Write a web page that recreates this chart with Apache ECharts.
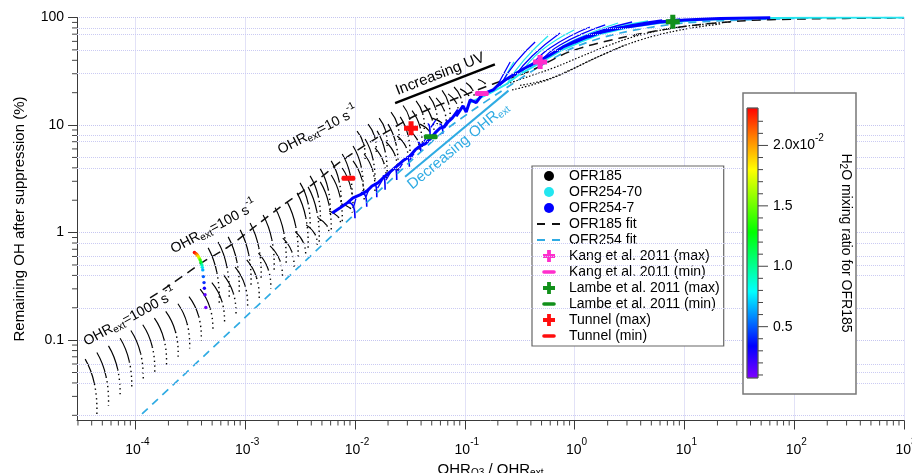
<!DOCTYPE html>
<html><head><meta charset="utf-8">
<script src="https://cdn.jsdelivr.net/npm/echarts@6.0.0/dist/echarts.min.js"></script>
<style>html,body{margin:0;padding:0;background:#fff}#c{width:912px;height:473px}</style>
</head><body><div id="c"></div>
<script>
// ---------------- data ----------------
const xAxisMin = 2.94e-5, xAxisMax = 1000, yAxisMin = 0.0179, yAxisMax = 100;
const xMinorTicks = [3e-5,4e-5,5e-5,6e-5,7e-5,8e-5,9e-5,2e-4,3e-4,4e-4,5e-4,6e-4,7e-4,8e-4,9e-4,
  2e-3,3e-3,4e-3,5e-3,6e-3,7e-3,8e-3,9e-3,0.02,0.03,0.04,0.05,0.06,0.07,0.08,0.09,
  0.2,0.3,0.4,0.5,0.6,0.7,0.8,0.9,2,3,4,5,6,7,8,9,20,30,40,50,60,70,80,90,200,300,400,500,600,700,800,900];
const yMinorTicks = [0.02,0.03,0.04,0.05,0.06,0.07,0.08,0.09,0.2,0.3,0.4,0.5,0.6,0.7,0.8,0.9,
  2,3,4,5,6,7,8,9,20,30,40,50,60,70,80,90];
const yGridExtra = [0.02,0.04,0.05,0.06,0.2,0.4,0.5,0.6,0.8,4,5,7,8,30,50,70,80];

// OFR185 arcs: [x top, y top, x bottom, y bottom]
const ofr185ArcsA = [
  [3.49e-5,0.0666,4.46e-5,0.0205],[4.46e-5,0.0767,5.69e-5,0.0245],[5.69e-5,0.0885,7.25e-5,0.0291],
  [7.26e-5,0.104,9.26e-5,0.0347],[9.1e-5,0.123,1.178e-4,0.0414],[1.168e-4,0.139,1.50e-4,0.0494],
  [1.49e-4,0.160,1.92e-4,0.0588],[1.89e-4,0.185,2.45e-4,0.0701],[2.44e-4,0.218,3.12e-4,0.0836],
  [3.08e-4,0.254,3.98e-4,0.0995],[3.89e-4,0.298,5.08e-4,0.119],[4.97e-4,0.343,6.48e-4,0.142],
  [6.34e-4,0.405,8.24e-4,0.169],[8.1e-4,0.477,1.051e-3,0.201],[1.034e-3,0.557,1.341e-3,0.239],
  [1.32e-3,0.643,1.71e-3,0.30],[1.685e-3,0.752,2.18e-3,0.379],[2.20e-3,0.887,2.78e-3,0.476],
  [2.85e-3,1.02,3.55e-3,0.601],[3.59e-3,1.18,4.53e-3,0.759],[4.62e-3,1.37,5.79e-3,0.958],
  [5.82e-3,1.59,7.36e-3,1.21],[7.49e-3,1.85,9.4e-3,1.53]];
const ofr185ArcsB = [
  [4.60e-4,0.721,5.80e-4,0.222],[5.67e-4,0.819,7.15e-4,0.252],[7.0e-4,0.912,8.82e-4,0.281],
  [9.0e-4,1.06,1.13e-3,0.326],[1.108e-3,1.23,1.396e-3,0.379],[1.456e-3,1.46,1.835e-3,0.450],
  [1.873e-3,1.70,2.36e-3,0.523],[2.41e-3,1.93,3.03e-3,0.595],[2.97e-3,2.34,3.74e-3,0.721],
  [3.74e-3,2.66,4.72e-3,0.819],[4.83e-3,2.96,6.07e-3,1.02],[6.07e-3,3.43,7.65e-3,1.26],
  [7.65e-3,3.99,9.6e-3,1.56],[9.6e-3,4.64,1.21e-2,1.95],[1.21e-2,5.38,1.52e-2,2.44],
  [1.52e-2,6.13,1.92e-2,3.02],[1.92e-2,6.96,2.42e-2,3.78],[2.42e-2,7.92,3.05e-2,4.72],
  [3.05e-2,9.0,3.84e-2,5.87],[3.92e-2,10.2,4.94e-2,7.49],[5.04e-2,11.6,6.35e-2,9.52]];
const ofr185ArcsC = [
  [3.16e-3,2.90,3.9e-3,1.11],[3.9e-3,3.37,4.83e-3,1.28],[4.83e-3,3.91,5.94e-3,1.49],
  [6.07e-3,4.64,7.48e-3,1.77],[7.65e-3,5.38,9.4e-3,2.06],[9.6e-3,6.39,1.185e-2,2.44],
  [1.236e-2,7.43,1.52e-2,2.84],[1.59e-2,8.82,1.96e-2,3.37],[2.0e-2,10.2,2.47e-2,3.91],
  [2.58e-2,11.9,3.17e-2,4.95],[3.31e-2,13.6,4.08e-2,6.26],[4.27e-2,15.4,5.25e-2,7.82],
  [5.48e-2,17.9,6.76e-2,10.0],[7.05e-2,19.5,8.71e-2,12.9],[9.07e-2,21.7,0.112,16.4]];
const ofr185ArcsD = [
  [1.045e-2,8.8,1.236e-2,4.84],[1.316e-2,10.2,1.56e-2,5.63],[1.66e-2,11.6,1.96e-2,6.39],
  [2.13e-2,13.2,2.52e-2,7.27],[2.74e-2,15.2,3.24e-2,8.27],[3.6e-2,16.8,4.27e-2,9.2],
  [4.73e-2,18.6,5.6e-2,10.2],[6.21e-2,21.0,7.34e-2,11.4],[7.98e-2,22.6,9.47e-2,14.0],
  [0.1027,24.7,0.1215,17.8],[0.132,26.5,0.156,22.6]];
// OFR185 high-UV bundle (black dotted)
const ofr185BundleA = [[0.243,24.1],[0.394,28.6],[0.637,33.9],[1.12,43.0],[1.98,54.4],[3.96,68.8],[9.15,81.6],[26.1,90.8]];
const ofr185BundleB = [[0.270,21.2],[0.437,24.1],[0.738,29.2],[1.246,37.8],[2.11,48.3],[3.96,61.8],[9.15,76.5],[21.2,87.0]];
const ofr185BundleC = [[0.319,23.4],[0.539,26.2],[0.91,32.5],[1.54,42.0],[2.88,55.5]];
// OFR185 coloured by H2O: [x, y, H2O mixing ratio]
const ofr185H2OArc = [[3.45e-4,0.652,0.0230],[3.53e-4,0.641,0.0222],[3.62e-4,0.630,0.0210],[3.68e-4,0.614,0.0198],
  [3.75e-4,0.598,0.0185],[3.82e-4,0.578,0.0165],[3.89e-4,0.557,0.0140],[3.96e-4,0.530,0.0120],
  [4.03e-4,0.501,0.0095],[4.07e-4,0.475,0.0080],[4.11e-4,0.450,0.0065],[4.16e-4,0.390,0.0050],
  [4.22e-4,0.343,0.0040],[4.25e-4,0.304,0.0030],[4.31e-4,0.264,0.0015],[4.38e-4,0.201,0.0010]];
// fits
const ofr185Fit = [[1.36e-4,0.247],[2.07e-4,0.326],[4.14e-4,0.534],[7.0e-4,0.736],[1.283e-3,1.18],[2.22e-3,1.81],
  [4.15e-3,2.84],[7.33e-3,4.54],[1.69e-2,7.92],[3.92e-2,12.9],[9.07e-2,18.3],[0.181,24.1],[0.394,31.8],
  [0.91,48.3],[2.60,64.5],[9.15,81.6],[32.2,92.8],[113,96.8],[1000,99.4]];
const ofr254Fit = [[1.15e-4,0.0206],[3.16e-3,0.49],[5.6e-2,7.75],[0.112,13.2],[0.21,20.3],[0.455,33.9],
  [1.01,53.2],[2.6,71.7],[10.1,88.9],[100,97.9],[1000,99.6]];
// OFR254-7 (blue)
const ofr254_7Main = [[6.2e-3,1.52],[7.33e-3,1.70],[8.5e-3,1.89],[9.6e-3,2.10],[1.11e-2,2.24],[1.29e-2,2.44],
  [1.43e-2,2.71],[1.62e-2,2.90],[1.80e-2,3.22],[2.09e-2,3.67],[2.42e-2,4.17],[2.80e-2,4.74],[3.17e-2,5.16],
  [3.53e-2,5.87],[3.92e-2,6.39],[4.35e-2,6.67],[4.83e-2,7.43],[5.37e-2,8.45],[5.96e-2,9.40],[6.49e-2,9.6],
  [7.05e-2,10.7],[7.68e-2,11.6],[8.71e-2,13.8],[8.35e-2,12.1],[9.64e-2,15.1],[0.103,13.2],[0.112,17.1],
  [0.127,16.2],[0.144,19.2],[0.163,20.3],[0.181,21.2],[0.197,23.1],[0.233,26.2],[0.276,29.2],[0.354,33.9],
  [0.455,38.6],[0.597,44.8],[0.787,53.2],[1.12,61.8],[1.60,71.7],[2.60,79.9],[3.96,85.2],[6.0,90.8],
  [10.1,94.8],[21.2,97.9],[60.5,99.4]];
const ofr254_7Spikes = [[9.37e-3,1.94,1.0e-2,1.36],[1.236e-2,2.40,1.28e-2,1.74],[1.63e-2,2.88,1.58e-2,2.13],
  [1.95e-2,3.44,1.88e-2,2.50],[2.49e-2,4.10,2.40e-2,3.09],[3.17e-2,5.08,3.13e-2,4.10],[4.06e-2,7.01,3.98e-2,5.66],
  [5.0e-2,10.4,4.83e-2,8.09],[6.39e-2,10.4,6.31e-2,8.28]];
const ofr254_7Fans = [
  [[0.197,23.1],[0.223,29.2],[0.259,38.6]],
  [[0.210,23.4],[0.294,38.6],[0.437,59.2]],
  [[0.287,28.6],[0.411,43.8],[0.738,71.7]],
  [[0.394,34.7],[0.597,52.1],[1.38,81.6]],
  [[0.485,38.6],[0.738,55.5],[1.90,85.2]],
  [[0.679,48.3],[1.12,64.5],[3.34,90.8]],
  [[1.01,57.9],[1.90,74.9],[6.27,94.8]],
  [[1.33,64.5],[2.60,79.9],[9.15,96.8]]];
// OFR254-70 (cyan)
const ofr254_70Main = [[0.112,16.2],[0.17,19.8],[0.233,23.6],[0.319,29.8],[0.485,37.8],[0.74,48.9],[1.12,59.2],
  [1.71,70.2],[3.2,81.6],[6.0,88.9],[13.9,94.8],[39.7,98.3],[113,99.4],[1000,99.8]];
const ofr254_70Fans = [
  [[0.219,24.1],[0.248,31.2],[0.281,38.6]],
  [[0.248,25.1],[0.347,40.3],[0.573,67.3]],
  [[0.333,31.2],[0.485,48.3],[0.99,76.5]],
  [[0.573,43.0],[0.91,59.2],[2.49,88.9]],
  [[0.819,53.2],[1.44,70.2],[4.67,92.8]]];
// literature points
const kangMax = [0.485,38.6], kangMin = [0.143,19.7];
const lambeMax = [7.84,91.4], lambeMin = [0.049,7.8];
const tunnelMax = [0.0324,9.34], tunnelMin = [8.71e-3,3.2];
// annotations
const annotationTexts = ['OHR{sub|ext}=1000 s{sup|-1}','OHR{sub|ext}=100 s{sup|-1}','OHR{sub|ext}=10 s{sup|-1}','Increasing UV','Decreasing OHR{sub|ext}'];
const annotationAnchors = [[8.96e-5,0.161],[5.2e-4,1.11],[4.6e-3,8.82],[5.96e-2,29.8],[8.71e-2,6.39]];
const annotationAngles = [28.5,28,27,21.3,39.8];
const increasingUVArrow = [[2.32e-2,16.0],[0.188,36.7]];
const decreasingOHRArrow = [[2.86e-2,3.31],[0.25,20.9]];
// colour scale (H2O mixing ratio, units of 1e-2)
const cbMin = 0.075, cbMax = 2.31;
const cbMajorTicks = [0.5,1.0,1.5,2.0];
const cbMajorLabels = ['0.5','1.0','1.5','2.0x10{sup|-2}'];
const cbMinorTicks = [0.1,0.2,0.3,0.4,0.6,0.7,0.8,0.9,1.1,1.2,1.3,1.4,1.6,1.7,1.8,1.9,2.1,2.2];
const legendNames = ['OFR185','OFR254-70','OFR254-7','OFR185 fit','OFR254 fit','Kang et al. 2011 (max)',
  'Kang et al. 2011 (min)','Lambe et al. 2011 (max)','Lambe et al. 2011 (min)','Tunnel (max)','Tunnel (min)'];

// ---------------- styles ----------------
const FONT = '"Liberation Sans", Arial, Helvetica, sans-serif';
const BLUE = '#0000ff', CYAN = '#22e6f0', LBLUE = '#2fabe3', MAG = '#ff2ecc', GREEN = '#11901a', RED = '#ff0d0d';
const h2oColors = ['#8000ff','#1500ff','#0066ff','#00e6ff','#00ffa3','#00ff2e','#42ff00','#b3ff00','#ffde00','#ff6f00','#ff0000'];
const cbStops = [{offset:0,color:'#ff0000'},{offset:0.11,color:'#ff8000'},{offset:0.23,color:'#ffff00'},
  {offset:0.46,color:'#00ff00'},{offset:0.68,color:'#00ffff'},{offset:0.88,color:'#0000ff'},{offset:1,color:'#8000ff'}];
const plusPath = 'path://M3.2,0H6.8V3.2H10V6.8H6.8V10H3.2V6.8H0V3.2H3.2Z';
const minusPath = 'path://M1.5,0H12.5A1.5,1.5,0,0,1,12.5,3H1.5A1.5,1.5,0,0,1,1.5,0Z';
const icCircle = 'path://M0,0M30,14M20,7A5,5,0,1,1,10,7A5,5,0,1,1,20,7Z';
const icDash = 'path://M0,0M30,14M3,6H11V8H3Z M18,6H26V8H18Z';
const icPlus = 'path://M0,0M30,14M13.1,1H16.9V5.1H21V8.9H16.9V13H13.1V8.9H9V5.1H13.1Z';
const icMinus = 'path://M0,0M30,14M10,5.2H20A1.8,1.8,0,0,1,20,8.8H10A1.8,1.8,0,0,1,10,5.2Z';
const legendIcons = [icCircle,icCircle,icCircle,icDash,icDash,icPlus,icMinus,icPlus,icMinus,icPlus,icMinus];

function arcItem(params, api) {
  const p0 = api.coord([api.value(0), api.value(1)]);
  const p2 = api.coord([api.value(2), api.value(3)]);
  const h = p2[1] - p0[1];
  const c = [p2[0] + 1, p0[1] + 0.4 * h];
  const a = [(p0[0] + c[0]) / 2, (p0[1] + c[1]) / 2];
  const b = [(c[0] + p2[0]) / 2, (c[1] + p2[1]) / 2];
  const m = [(a[0] + b[0]) / 2, (a[1] + b[1]) / 2];
  return {type:'group', children:[
    {type:'bezierCurve', shape:{x1:p0[0],y1:p0[1],cpx1:a[0],cpy1:a[1],x2:m[0],y2:m[1]}, style:{stroke:'#000',lineWidth:1.15,fill:'none'}},
    {type:'bezierCurve', shape:{x1:m[0],y1:m[1],cpx1:b[0],cpy1:b[1],x2:p2[0],y2:p2[1]}, style:{stroke:'#000',lineWidth:1.4,fill:'none',lineDash:[1.4,3.4]}}
  ]};
}
function spikeItem(params, api) {
  const p0 = api.coord([api.value(0), api.value(1)]);
  const p2 = api.coord([api.value(2), api.value(3)]);
  const jy = p0[1] + (p2[1] - p0[1]) * 0.35;
  return {type:'group', children:[
    {type:'bezierCurve', shape:{x1:p0[0]-4,y1:p0[1]+1,cpx1:p2[0],cpy1:p0[1],x2:p2[0],y2:p2[1]}, style:{stroke:BLUE,lineWidth:1.6,fill:'none'}},
    {type:'line', shape:{x1:p0[0]+4,y1:p0[1]-3,x2:(p0[0]+p2[0])/2,y2:jy}, style:{stroke:BLUE,lineWidth:1.3}}
  ]};
}
function xMinorItem(params, api) {
  const cs = params.coordSys;
  const x = api.coord([api.value(0), 1])[0];
  const y = cs.y + cs.height;
  return {type:'line', shape:{x1:x,y1:y,x2:x,y2:y+5}, style:{stroke:'#444',lineWidth:1}};
}
function yMinorItem(params, api) {
  const cs = params.coordSys;
  const y = api.coord([1, api.value(1)])[1];
  return {type:'line', shape:{x1:cs.x-5,y1:y,x2:cs.x,y2:y}, style:{stroke:'#444',lineWidth:1}};
}
function cbBarItem(params, api) {
  const t = api.coord([0, api.value(3)]);
  const b = api.coord([1, api.value(1)]);
  return {type:'rect', shape:{x:t[0],y:t[1],width:b[0]-t[0],height:b[1]-t[1]},
    style:{fill:new echarts.graphic.LinearGradient(0,0,0,1,cbStops), stroke:'#555', lineWidth:0.8}};
}
function cbMajorItem(params, api) {
  const p = api.coord([1, api.value(1)]);
  const i = api.value(2);
  return {type:'group', children:[
    {type:'line', shape:{x1:p[0],y1:p[1],x2:p[0]+10,y2:p[1]}, style:{stroke:'#444',lineWidth:1}},
    {type:'text', x:p[0]+15, y:p[1], style:{text:cbMajorLabels[i], fontSize:14, fontFamily:FONT, fill:'#000',
      align:'left', verticalAlign:'middle', rich:{sup:{fontSize:10, fontFamily:FONT, fill:'#000', padding:[0,0,14,0]}}}}
  ]};
}
function cbMinorItem(params, api) {
  const p = api.coord([1, api.value(1)]);
  return {type:'line', shape:{x1:p[0],y1:p[1],x2:p[0]+5,y2:p[1]}, style:{stroke:'#444',lineWidth:1}};
}

// ---------------- series ----------------
const series = [];
function add(s) { series.push(s); return series.length - 1; }

add({type:'line', name:'_grid', data:[], z:1, silent:true,
  markLine:{silent:true, symbol:['none','none'], label:{show:false}, animation:false,
    lineStyle:{color:'#cbcbf3', type:'dotted', width:1}, data:yGridExtra.map(v => ({yAxis:v}))}});
[ofr185ArcsA, ofr185ArcsB, ofr185ArcsC, ofr185ArcsD].forEach(d =>
  add({type:'custom', name:'OFR185', data:d, renderItem:arcItem, itemStyle:{color:'#000'}, silent:true}));
[ofr185BundleA, ofr185BundleB, ofr185BundleC].forEach(d =>
  add({type:'line', name:'OFR185', data:d, symbol:'none', smooth:0.4, itemStyle:{color:'#000'},
    lineStyle:{color:'#000', width:1.2, type:[1.5,1.8]}, silent:true}));
add({type:'line', name:'OFR254 fit', data:ofr254Fit, symbol:'none', smooth:0.3, itemStyle:{color:LBLUE},
  lineStyle:{color:LBLUE, width:1.7, type:[8,6]}, silent:true});
add({type:'line', name:'OFR185 fit', data:ofr185Fit, symbol:'none', smooth:0.3, itemStyle:{color:'#111'},
  lineStyle:{color:'#111', width:1.5, type:[9,6]}, silent:true});
add({type:'line', name:'OFR254-70', data:ofr254_70Main, symbol:'none', itemStyle:{color:CYAN},
  lineStyle:{color:CYAN, width:2}, silent:true});
ofr254_70Fans.forEach(d => add({type:'line', name:'OFR254-70', data:d, symbol:'none', smooth:true,
  itemStyle:{color:CYAN}, lineStyle:{color:CYAN, width:1.3}, silent:true}));
add({type:'line', name:'OFR254-7', data:ofr254_7Main, symbol:'none', itemStyle:{color:BLUE},
  lineStyle:{color:BLUE, width:3}, silent:true});
ofr254_7Fans.forEach(d => add({type:'line', name:'OFR254-7', data:d, symbol:'none', smooth:true,
  itemStyle:{color:BLUE}, lineStyle:{color:BLUE, width:1.3}, silent:true}));
add({type:'custom', name:'OFR254-7', data:ofr254_7Spikes, renderItem:spikeItem, itemStyle:{color:BLUE}, silent:true});
const h2oIdx = add({type:'scatter', name:'OFR185 H2O', data:ofr185H2OArc, symbolSize:3.4, z:5, silent:true, itemStyle:{opacity:1}});
const markers = [
  ['Kang et al. 2011 (max)', kangMax, plusPath, 14, MAG], ['Kang et al. 2011 (min)', kangMin, minusPath, [14,5], MAG],
  ['Lambe et al. 2011 (max)', lambeMax, plusPath, 14, GREEN], ['Lambe et al. 2011 (min)', lambeMin, minusPath, [14,5], GREEN],
  ['Tunnel (max)', tunnelMax, plusPath, 14, RED], ['Tunnel (min)', tunnelMin, minusPath, [14,5], RED]];
markers.forEach(m => add({type:'scatter', name:m[0], data:[m[1]], symbol:m[2], symbolSize:m[3],
  itemStyle:{color:m[4], opacity:1}, z:8, silent:true}));
add({type:'line', name:'_arrows', data:[], z:6, silent:true,
  markLine:{silent:true, symbol:['none','arrow'], symbolSize:[0,11], label:{show:false}, animation:false,
    data:[[{coord:increasingUVArrow[0], lineStyle:{color:'#000', width:2.5, type:'solid'}}, {coord:increasingUVArrow[1]}],
          [{coord:decreasingOHRArrow[0], lineStyle:{color:LBLUE, width:2, type:'solid'}}, {coord:decreasingOHRArrow[1]}]]}});
add({type:'custom', name:'_xminor', data:xMinorTicks.map(v => [v, 1]), renderItem:xMinorItem, clip:false, silent:true, z:3});
add({type:'custom', name:'_yminor', data:yMinorTicks.map(v => [1, v]), renderItem:yMinorItem, clip:false, silent:true, z:3});
add({type:'custom', name:'_cbbar', xAxisIndex:1, yAxisIndex:1, data:[[0,cbMin,1,cbMax]], renderItem:cbBarItem, clip:false, silent:true, z:7});
add({type:'custom', name:'_cbmajor', xAxisIndex:1, yAxisIndex:1, data:cbMajorTicks.map((v,i) => [1,v,i]), renderItem:cbMajorItem, clip:false, silent:true, z:7});
add({type:'custom', name:'_cbminor', xAxisIndex:1, yAxisIndex:1, data:cbMinorTicks.map(v => [1,v]), renderItem:cbMinorItem, clip:false, silent:true, z:7});

const axisCol = '#3a3a3a';
const option = {
  animation:false,
  backgroundColor:'#fff',
  textStyle:{fontFamily:FONT},
  grid:[{left:77, top:17.5, width:827, height:403, containLabel:false, outerBoundsMode:'none'},
        {left:747, top:108, width:11, height:270, containLabel:false, outerBoundsMode:'none'}],
  xAxis:[{
    type:'log', logBase:10, min:xAxisMin, max:xAxisMax, gridIndex:0, splitNumber:10,
    name:'OHR{sub|O3} / OHR{sub|ext}', nameLocation:'middle', nameGap:38,
    nameTextStyle:{fontSize:15, fontFamily:FONT, color:'#000', rich:{sub:{fontSize:10, fontFamily:FONT, color:'#000', padding:[7,0,0,0]}}},
    axisLine:{lineStyle:{color:axisCol, width:1}},
    axisTick:{length:9, lineStyle:{color:axisCol, width:1}},
    axisLabel:{showMinLabel:false, margin:17, color:'#000', fontSize:14, fontFamily:FONT, padding:[0,0,0,4],
      formatter:v => '10{sup|' + Math.round(Math.log10(v)) + '}',
      rich:{sup:{fontSize:10, fontFamily:FONT, color:'#000', padding:[0,0,15,0]}}},
    splitLine:{show:true, lineStyle:{color:'#c6c6f0', type:'dotted', width:1}}
  },{type:'value', gridIndex:1, min:0, max:1, show:false}],
  yAxis:[{
    type:'log', logBase:10, min:yAxisMin, max:yAxisMax, gridIndex:0,
    name:'Remaining OH after suppression (%)', nameLocation:'middle', nameGap:50, nameRotate:90,
    nameTextStyle:{fontSize:15, fontFamily:FONT, color:'#000'},
    axisLine:{lineStyle:{color:axisCol, width:1}},
    axisTick:{length:9, lineStyle:{color:axisCol, width:1}},
    axisLabel:{showMinLabel:false, margin:13, color:'#000', fontSize:14, fontFamily:FONT, formatter:v => String(v)},
    splitLine:{show:true, lineStyle:{color:'#c6c6f0', type:'dotted', width:1}}
  },{type:'value', gridIndex:1, min:cbMin, max:cbMax, show:false}],
  visualMap:[{type:'continuous', show:false, seriesIndex:h2oIdx, dimension:2, min:0.00075, max:0.0231, inRange:{color:h2oColors}}],
  legend:{
    orient:'vertical', left:532, top:166, padding:[3,4,3,2], itemWidth:30, itemHeight:14, itemGap:2,
    backgroundColor:'#fff', borderColor:'#666', borderWidth:1.2, selectedMode:false,
    itemStyle:{borderWidth:0, opacity:1},
    textStyle:{fontSize:14, fontFamily:FONT, color:'#000', lineHeight:14},
    data:legendNames.map((n,i) => ({name:n, icon:legendIcons[i]}))
  },
  series:series
};
const chart = echarts.init(document.getElementById('c'));
chart.setOption(option);

const baseGraphic = [
  {type:'rect', shape:{x:743, y:93, width:113, height:301}, style:{fill:'#fff', stroke:'#777', lineWidth:1.5}, z:5, silent:true},
  {type:'text', x:846, y:243, rotation:-Math.PI/2, z:8, silent:true,
    style:{text:'H{sub|2}O mixing ratio for OFR185', fontSize:14, fontFamily:FONT, fill:'#000', align:'center', verticalAlign:'middle',
      rich:{sub:{fontSize:10, fontFamily:FONT, fill:'#000', padding:[7,0,0,0]}}}}
];
const annGraphic = annotationTexts.map((t, i) => {
  const p = chart.convertToPixel({xAxisIndex:0, yAxisIndex:0}, annotationAnchors[i]);
  const col = i === 4 ? LBLUE : '#000';
  const fs = i >= 3 ? 15 : 14;
  return {type:'text', x:p[0], y:p[1], rotation:annotationAngles[i] * Math.PI / 180, z:9, silent:true,
    style:{text:t, fontSize:fs, fontFamily:FONT, fill:col, align:'center', verticalAlign:'middle',
      rich:{sub:{fontSize:10, fontFamily:FONT, fill:col, padding:[7,0,0,0]},
            sup:{fontSize:10, fontFamily:FONT, fill:col, padding:[0,0,14,0]}}}};
});
chart.setOption({graphic:baseGraphic.concat(annGraphic)});
</script></body></html>
